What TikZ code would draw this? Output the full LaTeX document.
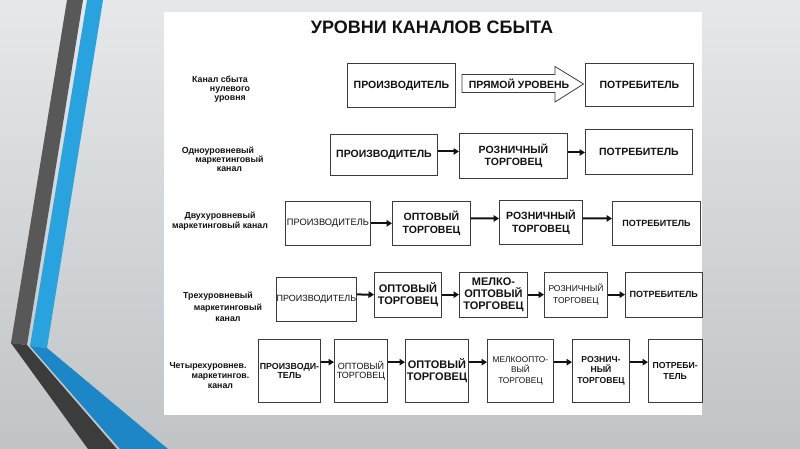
\documentclass[tikz,border=0pt]{standalone}
\usepackage{fontspec}
\setmainfont{Liberation Sans}
\usetikzlibrary{arrows.meta}
\newcommand\myfs[2]{\fontsize{#1}{#2}\selectfont}
\definecolor{bgtop}{RGB}{230,232,234}
\definecolor{bgbot}{RGB}{192,196,198}
\definecolor{dkA}{RGB}{88,88,88}
\definecolor{dkB}{RGB}{60,60,60}
\definecolor{blA}{RGB}{41,163,224}
\definecolor{blB}{RGB}{28,134,198}
\definecolor{ink}{RGB}{18,18,18}
\definecolor{boxc}{RGB}{60,60,60}
\begin{document}
\begin{tikzpicture}[x=1pt,y=-1pt,
  box/.style={draw=boxc, line width=0.9pt, fill=white, inner xsep=0pt, inner ysep=0pt, align=center, anchor=north west, text=ink},
  lab/.style={align=center, text=ink, inner sep=0pt},
  arr/.style={draw=ink, line width=2pt, -{Triangle[length=5.5pt,width=6.5pt]}},
  bigarr/.style={draw=boxc, line width=0.8pt, fill=white}]
% background
\useasboundingbox (0,0) rectangle (800,449);
\shade[top color=bgtop, bottom color=bgbot] (0,0) rectangle (800,449);
% stripes
\fill[dkA] (67,0) -- (83,0) -- (27,345) -- (11,343) -- cycle;
\fill[dkB] (11,343) -- (27,345) -- (117,449) -- (88,449) -- cycle;
\fill[blA] (87,0) -- (103,0) -- (47,348) -- (30,346) -- cycle;
\fill[blB] (30,346) -- (47,348) -- (168,449) -- (120,449) -- cycle;
% panel
\fill[white] (164,12.5) rectangle (702,415);
% title
\node[text=ink, font=\myfs{18}{20}\bfseries, inner sep=0pt] (title) at (432,27) {УРОВНИ КАНАЛОВ СБЫТА};
% row labels
\node[lab, font=\myfs{8.8}{8.9}\bfseries] (l0) at (220,89) {Канал сбыта\\\hspace*{20pt}нулевого\\\hspace*{20pt}уровня};
\node[lab, font=\myfs{8.8}{9.2}\bfseries] (l1) at (218,159.5) {Одноуровневый\\\hspace*{23pt}маркетинговый\\\hspace*{23pt}канал};
\node[lab, font=\myfs{8.8}{10}\bfseries] (l2) at (220,220.7) {Двухуровневый\\маркетинговый канал};
\node[lab, font=\myfs{8.8}{11.5}\bfseries] (l3) at (218,307) {Трехуровневый\\\hspace*{20pt}маркетинговый\\\hspace*{20pt}канал};
\node[lab, font=\myfs{8.8}{10.4}\bfseries] (l4) at (208,375.5) {Четырехуровнев.\\\hspace*{25pt}маркетингов.\\\hspace*{25pt}канал};
% row 0
\node[box, text width=108pt, minimum height=44pt, font=\myfs{10.5}{12}\bfseries] (p0) at (347,63) {ПРОИЗВОДИТЕЛЬ};
\node[box, text width=108pt, minimum height=43pt, font=\myfs{10.5}{12}\bfseries] (c0) at (585,63) {ПОТРЕБИТЕЛЬ};
\draw[bigarr] (462,74.5) -- (555,74.5) -- (555,66.5) -- (583.5,84) -- (555,102) -- (555,92.5) -- (462,92.5) -- cycle;
\node[text=ink, font=\myfs{10.5}{12}\bfseries, inner sep=0pt] (a0) at (519,84) {ПРЯМОЙ УРОВЕНЬ};
% row 1
\node[box, text width=107pt, minimum height=41pt, font=\myfs{10.5}{12}\bfseries] (p1) at (330,134) {\raisebox{-2pt}{ПРОИЗВОДИТЕЛЬ}};
\node[box, text width=108pt, minimum height=45pt, font=\myfs{10.5}{12}\bfseries] (r1) at (459,133) {РОЗНИЧНЫЙ\\ТОРГОВЕЦ};
\node[box, text width=107pt, minimum height=45pt, font=\myfs{10.5}{12}\bfseries] (c1) at (585,129) {ПОТРЕБИТЕЛЬ};
\draw[arr] ([yshift=3.5pt]p1.east) -- ([yshift=4.5pt]r1.west);
\draw[arr] ([yshift=3.5pt]r1.east) -- ([yshift=-0.5pt]c1.west);
% row 2
\node[box, text width=85pt, minimum height=44.3pt, font=\myfs{9.3}{11}] (p2) at (285,200.7) {ПРОИЗВОДИТЕЛЬ};
\node[box, text width=78pt, minimum height=44.3pt, font=\myfs{10.5}{12.5}\bfseries] (o2) at (392,200.7) {ОПТОВЫЙ\\ТОРГОВЕЦ};
\node[box, text width=83pt, minimum height=44pt, font=\myfs{10.5}{12.5}\bfseries] (r2) at (499,200) {РОЗНИЧНЫЙ\\ТОРГОВЕЦ};
\node[box, text width=88pt, minimum height=44.3pt, font=\myfs{9}{11}\bfseries] (c2) at (612,200.7) {ПОТРЕБИТЕЛЬ};
\draw[arr] (p2.east) -- (o2.west);
\draw[arr] ([yshift=4.85pt]o2.east) -- ([yshift=4pt]r2.west);
\draw[arr] ([yshift=4pt]r2.east) -- ([yshift=4.85pt]c2.west);
% row 3
\node[box, text width=80pt, minimum height=44.3pt, font=\myfs{9}{11}] (p3) at (276,276.7) {ПРОИЗВОДИТЕЛЬ};
\node[box, text width=67pt, minimum height=45pt, font=\myfs{11}{11.8}\bfseries] (o3) at (374,271.7) {ОПТОВЫЙ\\ТОРГОВЕЦ};
\node[box, text width=68pt, minimum height=45pt, font=\myfs{11}{12.3}\bfseries] (m3) at (459,271.7) {МЕЛКО-\\ОПТОВЫЙ\\ТОРГОВЕЦ};
\node[box, text width=63pt, minimum height=45pt, font=\myfs{8.5}{11.5}] (r3) at (544,271.7) {РОЗНИЧНЫЙ\\ТОРГОВЕЦ};
\node[box, text width=76.5pt, minimum height=45pt, font=\myfs{9}{11}\bfseries] (c3) at (625,271.7) {ПОТРЕБИТЕЛЬ};
\draw[arr] ([yshift=4.85pt]p3.east) -- (o3.west);
\draw[arr] (o3.east) -- (m3.west);
\draw[arr] (m3.east) -- (r3.west);
\draw[arr] (r3.east) -- (c3.west);
% row 4
\node[box, text width=62pt, minimum height=62.7pt, font=\myfs{8.8}{9.5}\bfseries] (p4) at (258,339) {ПРОИЗВОДИ-\\ТЕЛЬ};
\node[box, text width=53pt, minimum height=62.7pt, font=\myfs{9}{9.8}] (o4a) at (334,339) {ОПТОВЫЙ\\ТОРГОВЕЦ};
\node[box, text width=63pt, minimum height=62.7pt, font=\myfs{11}{12}\bfseries] (o4b) at (405,339) {ОПТОВЫЙ\\ТОРГОВЕЦ};
\node[box, text width=66pt, minimum height=62.7pt, font=\myfs{8.3}{10.8}] (m4) at (487,339) {МЕЛКООПТО-\\ВЫЙ\\ТОРГОВЕЦ};
\node[box, text width=57pt, minimum height=62.7pt, font=\myfs{8.6}{10.8}\bfseries] (r4) at (572,339) {РОЗНИЧ-\\НЫЙ\\ТОРГОВЕЦ};
\node[box, text width=53.5pt, minimum height=62.7pt, font=\myfs{8.7}{10.7}\bfseries] (c4) at (648,339) {ПОТРЕБИ-\\ТЕЛЬ};
\draw[arr] ([yshift=8.65pt]p4.east) -- ([yshift=8.65pt]o4a.west);
\draw[arr] ([yshift=8.65pt]o4a.east) -- ([yshift=8.65pt]o4b.west);
\draw[arr] ([yshift=8.65pt]o4b.east) -- ([yshift=8.65pt]m4.west);
\draw[arr] ([yshift=8.65pt]m4.east) -- ([yshift=8.65pt]r4.west);
\draw[arr] ([yshift=8.65pt]r4.east) -- ([yshift=8.65pt]c4.west);
\end{tikzpicture}
\end{document}
